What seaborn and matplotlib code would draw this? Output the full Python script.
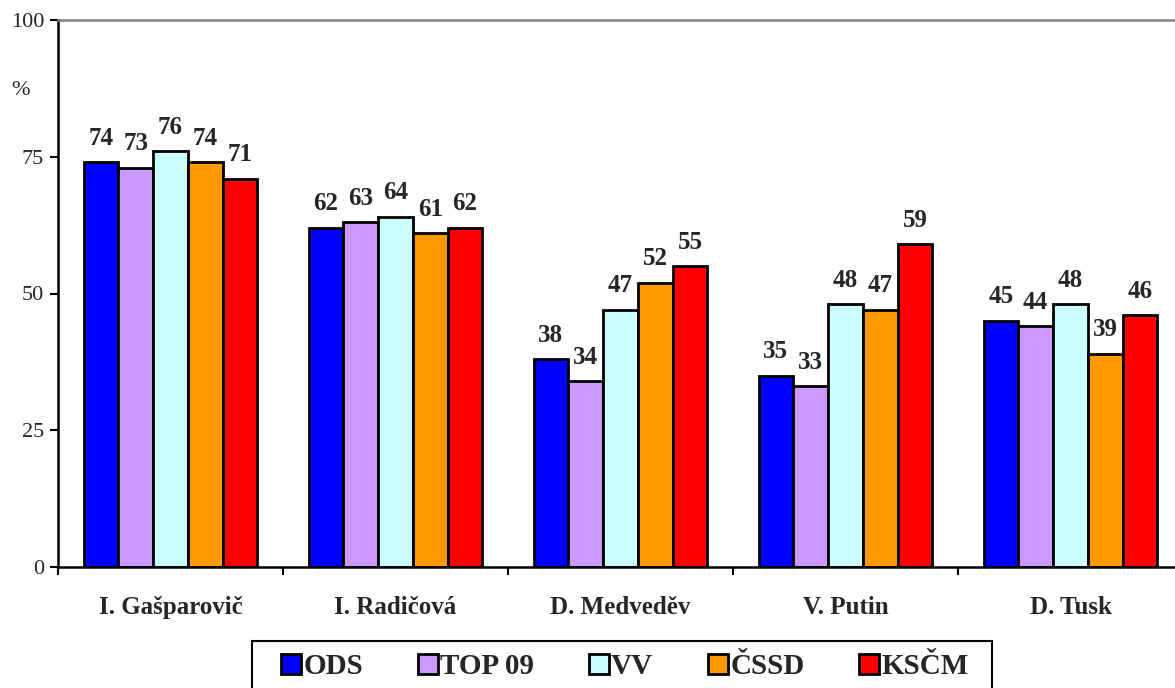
import pandas as pd
import seaborn as sns
import matplotlib.pyplot as plt
from matplotlib.patches import Rectangle

# Trust in foreign politicians by party supporters (%)
politicians = ['I. Gašparovič', 'I. Radičová', 'D. Medveděv', 'V. Putin', 'D. Tusk']
parties = ['ODS', 'TOP 09', 'VV', 'ČSSD', 'KSČM']
ods = [74, 62, 38, 35, 45]
top09 = [73, 63, 34, 33, 44]
vv = [76, 64, 47, 48, 48]
cssd = [74, 61, 52, 47, 39]
kscm = [71, 62, 55, 59, 46]
colors = ['#0000FF', '#CC99FF', '#CCFFFF', '#FF9900', '#FF0000']

rows = []
for party, vals in zip(parties, [ods, top09, vv, cssd, kscm]):
    for name, v in zip(politicians, vals):
        rows.append({'politician': name, 'party': party, 'value': v})
df = pd.DataFrame(rows)

sns.set_style('white')
plt.rcParams['font.family'] = ['Liberation Serif', 'DejaVu Serif']

fig = plt.figure(figsize=(11.75, 6.88), dpi=100)
ax = fig.add_axes([58 / 1175, 1 - 567 / 688, 1125 / 1175, 547 / 688])

sns.barplot(data=df, x='politician', y='value', hue='party', order=politicians,
            hue_order=parties, palette=colors, width=0.773, edgecolor='black',
            linewidth=2, saturation=1, ax=ax)

for cont in ax.containers:
    ax.bar_label(cont, fmt='%d', padding=9, fontsize=18, fontweight='bold')

ax.set_ylim(0, 100)
ax.set_xlim(-0.5, len(politicians) - 0.5)
ax.set_yticks([0, 25, 50, 75, 100])
ax.tick_params(axis='y', labelsize=16, length=6, width=1.5, direction='out',
               left=True, color='black', pad=4)
ax.set_xticks([i - 0.5 for i in range(len(politicians) + 1)], minor=True)
ax.tick_params(axis='x', which='minor', length=6, width=1.5, bottom=True,
               direction='out', color='black')
ax.tick_params(axis='x', which='major', length=0, labelsize=18, pad=21)
for lab in ax.get_xticklabels():
    lab.set_fontweight('bold')
ax.set_xlabel('')
ax.set_ylabel('')
ax.text(-0.033, 87.2, '%', transform=ax.get_yaxis_transform(), fontsize=16,
        ha='center', va='center')

for side in ['left', 'bottom']:
    ax.spines[side].set_color('black')
    ax.spines[side].set_linewidth(1.8)
ax.spines['top'].set_color('#808080')
ax.spines['top'].set_linewidth(1.8)
ax.spines['right'].set_visible(False)

handles, labels = ax.get_legend_handles_labels()
ax.get_legend().remove()
leg = fig.legend(handles, labels, loc='center', bbox_to_anchor=(625 / 1175, 1 - 667 / 688),
                 ncol=5, frameon=False, borderaxespad=0, borderpad=0,
                 handlelength=0.68, handleheight=0.68, handletextpad=0.08, columnspacing=1.88,
                 prop={'size': 21, 'weight': 'bold'})
# legend box, running off the bottom edge as in the original
fig.patches.append(Rectangle((252 / 1175, -0.05), 740 / 1175, 0.05 + 1 - 641 / 688,
                             transform=fig.transFigure, fill=False, edgecolor='black',
                             linewidth=1.5))

fig.savefig('out.png', dpi=100)
